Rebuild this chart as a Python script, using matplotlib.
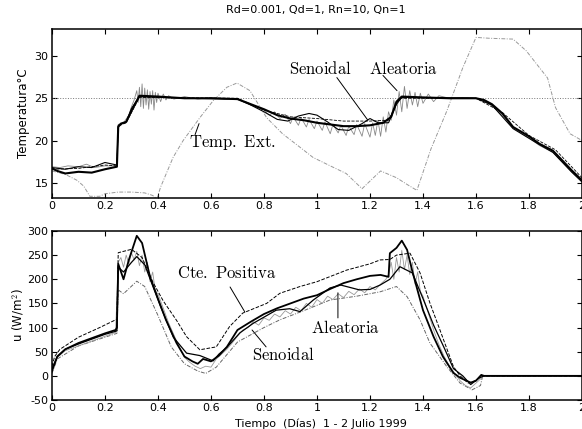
import matplotlib
matplotlib.use('Agg')
import matplotlib.pyplot as plt
from matplotlib.ticker import FormatStrFormatter

plt.rcParams['font.family'] = ['DejaVu Sans']
plt.rcParams['mathtext.fontset'] = 'cm'
plt.rcParams['axes.unicode_minus'] = False

title = 'Rd=0.001, Qd=1, Rn=10, Qn=1'
setpoint = 25

# --- temperature panel ---
temp_main = [(0, 16.7), (0.02, 16.4), (0.05, 16.1), (0.1, 16.3), (0.15, 16.2), (0.2, 16.6),
             (0.245, 16.9), (0.25, 21.6), (0.26, 22.0), (0.28, 22.2), (0.3, 23.5), (0.33, 25.3),
             (0.4, 25.2), (0.5, 25.0), (0.6, 25.0), (0.7, 24.9), (0.75, 24.3), (0.8, 23.7),
             (0.85, 23.0), (0.9, 22.6), (0.95, 22.4), (1.0, 22.1), (1.05, 21.9), (1.1, 21.7),
             (1.15, 21.7), (1.2, 21.8), (1.25, 22.1), (1.28, 22.8), (1.3, 24.6), (1.32, 25.2),
             (1.4, 25.1), (1.5, 25.0), (1.6, 25.0), (1.63, 24.8), (1.66, 24.3), (1.7, 23.2),
             (1.74, 21.6), (1.8, 20.5), (1.84, 19.6), (1.89, 18.8), (1.93, 17.5), (1.96, 16.5),
             (2.0, 15.3)]
temp_seno = [(0, 16.8), (0.05, 16.6), (0.1, 16.9), (0.15, 16.8), (0.2, 17.4), (0.245, 17.1),
             (0.25, 21.8), (0.28, 22.2), (0.3, 23.8), (0.33, 25.2), (0.5, 25.0), (0.7, 24.9),
             (0.75, 24.2), (0.8, 23.4), (0.85, 22.5), (0.89, 22.3), (0.93, 22.9), (0.97, 23.2),
             (1.0, 23.0), (1.04, 22.2), (1.08, 21.3), (1.12, 21.2), (1.17, 22.0), (1.2, 22.6),
             (1.23, 22.1), (1.27, 22.1), (1.3, 24.3), (1.32, 25.1), (1.6, 25.0), (1.66, 24.2),
             (1.74, 21.4), (1.84, 19.5), (1.89, 18.6), (1.96, 16.3), (2.0, 15.1)]
temp_dash = [(0, 16.6), (0.1, 16.7), (0.2, 17.1), (0.245, 17.0), (0.25, 21.7), (0.28, 22.1),
             (0.33, 25.1), (0.7, 25.0), (0.8, 23.6), (0.9, 22.8), (1.0, 22.6), (1.1, 22.3),
             (1.2, 22.3), (1.27, 22.4), (1.31, 25.0), (1.6, 25.0), (1.7, 23.3), (1.8, 20.6),
             (1.9, 18.9), (2.0, 15.6)]
temp_ale = [(0, 16.9), (0.03, 16.8), (0.06, 17.0), (0.1, 16.9), (0.13, 17.2), (0.16, 16.8),
            (0.2, 17.0), (0.245, 17.0), (0.25, 21.9), (0.27, 22.1), (0.29, 23.0), (0.3, 24.0),
            (0.31, 24.8), (0.32, 25.9), (0.325, 24.5), (0.33, 26.3), (0.335, 24.0), (0.34, 26.7),
            (0.345, 23.8), (0.35, 26.2), (0.355, 24.2), (0.36, 26.0), (0.365, 23.7), (0.37, 25.8),
            (0.375, 24.3), (0.38, 25.9), (0.385, 23.6), (0.39, 25.7), (0.395, 24.5), (0.4, 25.6),
            (0.41, 24.6), (0.42, 25.5), (0.43, 24.8), (0.44, 25.3), (0.46, 24.9), (0.5, 25.2),
            (0.55, 24.9), (0.6, 25.1), (0.65, 24.9), (0.7, 25.0), (0.75, 24.2), (0.8, 23.6),
            (0.82, 23.0), (0.84, 23.4), (0.86, 22.6), (0.88, 23.1), (0.9, 22.0), (0.91, 22.8),
            (0.93, 21.8), (0.94, 22.7), (0.96, 21.6), (0.97, 22.5), (0.99, 21.4), (1.0, 22.3),
            (1.02, 21.2), (1.03, 22.2), (1.05, 20.8), (1.06, 21.9), (1.08, 20.9), (1.09, 21.8),
            (1.11, 20.6), (1.12, 21.7), (1.14, 20.7), (1.15, 21.9), (1.17, 20.5), (1.18, 22.0),
            (1.2, 20.4), (1.21, 22.1), (1.22, 20.6), (1.23, 22.4), (1.24, 20.5), (1.25, 22.8),
            (1.26, 21.0), (1.27, 23.4), (1.28, 22.4), (1.29, 24.8), (1.3, 23.0), (1.31, 25.8),
            (1.32, 23.4), (1.33, 26.4), (1.34, 23.8), (1.35, 25.9), (1.36, 24.2), (1.37, 25.7),
            (1.38, 24.0), (1.39, 25.6), (1.4, 24.4), (1.42, 25.5), (1.44, 24.6), (1.46, 25.3),
            (1.5, 25.0), (1.55, 25.1), (1.6, 25.0), (1.63, 24.7), (1.66, 24.1), (1.7, 23.0),
            (1.74, 21.5), (1.8, 20.3), (1.84, 19.4), (1.89, 18.6), (1.93, 17.3), (1.96, 16.3),
            (2.0, 15.1)]
temp_ext = [(0, 16.4), (0.05, 16.0), (0.094, 15.3), (0.12, 14.6), (0.143, 13.4), (0.18, 13.4),
            (0.2, 13.7), (0.25, 13.9), (0.3, 13.9), (0.35, 13.8), (0.38, 13.5), (0.396, 13.1),
            (0.41, 14.5), (0.457, 18.0), (0.495, 20.0), (0.558, 22.7), (0.608, 24.7), (0.66, 26.3),
            (0.698, 26.8), (0.747, 25.9), (0.81, 22.7), (0.87, 20.8), (0.936, 19.2), (0.985, 18.0),
            (1.05, 17.0), (1.11, 16.1), (1.17, 14.3), (1.24, 16.4), (1.3, 15.6), (1.34, 14.8),
            (1.377, 14.1), (1.43, 19.0), (1.49, 23.5), (1.55, 28.6), (1.6, 32.2), (1.65, 32.1),
            (1.74, 32.0), (1.79, 30.6), (1.87, 27.4), (1.9, 23.9), (1.955, 20.8), (2.0, 20.0)]

# --- control panel ---
u_main = [(0, 10), (0.01, 25), (0.02, 40), (0.05, 55), (0.1, 68), (0.15, 78), (0.2, 88),
          (0.24, 95), (0.245, 100), (0.25, 232), (0.27, 200), (0.29, 240), (0.32, 290),
          (0.34, 275), (0.37, 205), (0.4, 160), (0.43, 116), (0.47, 68), (0.5, 40), (0.53, 30),
          (0.55, 25), (0.57, 35), (0.6, 30), (0.63, 42), (0.66, 60), (0.7, 95), (0.75, 112),
          (0.8, 128), (0.85, 140), (0.9, 150), (0.95, 160), (1.0, 167), (1.05, 180), (1.1, 192),
          (1.15, 200), (1.2, 207), (1.24, 209), (1.27, 205), (1.275, 254), (1.3, 265),
          (1.32, 280), (1.34, 261), (1.36, 216), (1.4, 136), (1.44, 81), (1.475, 40),
          (1.515, 6), (1.54, -4), (1.58, -14), (1.6, -10), (1.62, 2), (1.63, 0), (2.0, 0)]
u_seno = [(0, 15), (0.02, 40), (0.05, 55), (0.1, 66), (0.15, 76), (0.2, 86), (0.245, 93),
          (0.25, 225), (0.27, 215), (0.3, 235), (0.32, 247), (0.35, 230), (0.41, 143),
          (0.458, 80), (0.508, 47), (0.558, 42), (0.608, 31), (0.63, 45), (0.66, 59),
          (0.709, 89), (0.76, 109), (0.846, 136), (0.897, 139), (0.936, 133), (0.986, 157),
          (1.049, 182), (1.09, 188), (1.16, 178), (1.2, 179), (1.238, 188), (1.275, 200),
          (1.313, 226), (1.36, 213), (1.4, 160), (1.44, 105), (1.48, 58), (1.515, 15),
          (1.55, 0), (1.58, -18), (1.61, -5), (1.63, 0), (2.0, 0)]
u_cte = [(0, 20), (0.01, 40), (0.03, 55), (0.1, 80), (0.18, 100), (0.24, 116), (0.245, 117),
         (0.25, 255), (0.3, 262), (0.34, 245), (0.38, 195), (0.42, 155), (0.47, 115),
         (0.508, 81), (0.558, 54), (0.62, 60), (0.67, 102), (0.72, 130), (0.81, 150),
         (0.86, 171), (0.936, 185), (1.0, 195), (1.112, 219), (1.2, 232), (1.238, 240),
         (1.275, 241), (1.3, 250), (1.351, 254), (1.389, 213), (1.426, 151), (1.464, 95),
         (1.515, 19), (1.54, 0), (1.57, -15), (1.6, -10), (1.62, 0), (2.0, 0)]
u_low = [(0, 5), (0.02, 35), (0.1, 62), (0.2, 80), (0.245, 88), (0.25, 178), (0.27, 170),
         (0.32, 196), (0.35, 185), (0.4, 125), (0.45, 60), (0.5, 25), (0.55, 10), (0.58, 5),
         (0.62, 18), (0.7, 70), (0.8, 100), (0.86, 116), (0.95, 135), (1.049, 157),
         (1.15, 165), (1.238, 174), (1.3, 185), (1.34, 164), (1.389, 116), (1.426, 68),
         (1.49, 19), (1.54, -15), (1.585, -29), (1.617, -20), (1.625, 0), (2.0, 0)]
u_ale = [(0, 12), (0.02, 38), (0.05, 52), (0.1, 62), (0.15, 72), (0.2, 82), (0.24, 90),
         (0.25, 235), (0.26, 245), (0.27, 225), (0.28, 250), (0.29, 232), (0.3, 255),
         (0.31, 240), (0.32, 258), (0.33, 228), (0.34, 250), (0.35, 215), (0.36, 235),
         (0.37, 195), (0.38, 215), (0.39, 175), (0.4, 170), (0.42, 140), (0.44, 110),
         (0.46, 85), (0.48, 60), (0.5, 38), (0.52, 28), (0.54, 20), (0.56, 15), (0.58, 20),
         (0.6, 18), (0.62, 35), (0.64, 45), (0.66, 55), (0.68, 68), (0.7, 82), (0.72, 95),
         (0.74, 100), (0.76, 112), (0.78, 105), (0.8, 120), (0.82, 115), (0.84, 128),
         (0.86, 122), (0.88, 135), (0.9, 128), (0.92, 142), (0.94, 135), (0.96, 150),
         (0.98, 142), (1.0, 158), (1.02, 150), (1.04, 165), (1.06, 158), (1.08, 170),
         (1.1, 162), (1.12, 175), (1.14, 168), (1.16, 180), (1.18, 172), (1.2, 185),
         (1.22, 178), (1.24, 190), (1.26, 200), (1.27, 210), (1.28, 235), (1.29, 200),
         (1.3, 245), (1.31, 215), (1.32, 260), (1.33, 220), (1.34, 250), (1.35, 210),
         (1.36, 235), (1.37, 190), (1.38, 215), (1.39, 175), (1.4, 165), (1.42, 130),
         (1.44, 95), (1.46, 65), (1.48, 40), (1.5, 20), (1.52, 5), (1.54, -10), (1.56, -20),
         (1.58, -25), (1.6, -15), (1.62, -5), (1.63, 0), (2.0, 0)]

xticks = [0, 0.2, 0.4, 0.6, 0.8, 1.0, 1.2, 1.4, 1.6, 1.8, 2.0]
temp_yticks = [15, 20, 25, 30]
u_yticks = [-50, 0, 50, 100, 150, 200, 250, 300]


def xy(pairs):
    return [p[0] for p in pairs], [p[1] for p in pairs]


def style(ax):
    ax.tick_params(direction='in', length=3.5, width=0.8, top=True, right=True,
                   labelsize=8, pad=2.5)
    for s in ax.spines.values():
        s.set_linewidth(1.1)
    ax.set_xlim(0, 2)
    ax.set_xticks(xticks)
    ax.xaxis.set_major_formatter(FormatStrFormatter('%g'))


def label(ax, txt, pos, p0, p1, size=12):
    ax.text(pos[0], pos[1], r'$\mathrm{' + txt.replace(' ', r'\ ') + '}$',
            ha='center', va='center', fontsize=size)
    ax.annotate('', xy=p1, xytext=p0,
                arrowprops=dict(arrowstyle='-', lw=0.7, color='black',
                                shrinkA=0, shrinkB=0))


fig = plt.figure(figsize=(5.82, 4.29), dpi=100)
ax1 = fig.add_axes([0.0893, 0.5385, 0.9107, 0.394])
ax2 = fig.add_axes([0.0893, 0.0676, 0.9107, 0.394])

# top panel
ax1.axhline(setpoint, color='#777777', lw=0.7, ls=':')
ax1.plot(*xy(temp_ext), color='#999999', lw=0.7, dashes=(4, 1.5, 1, 1.5))
ax1.plot(*xy(temp_ale), color='#888888', lw=0.6)
ax1.plot(*xy(temp_dash), color='black', lw=0.6, ls='--')
ax1.plot(*xy(temp_seno), color='black', lw=0.8)
ax1.plot(*xy(temp_main), color='black', lw=1.5)
style(ax1)
ax1.set_ylim(13.2, 33.2)
ax1.set_yticks(temp_yticks)
ax1.set_ylabel('Temperatura°C', fontsize=8.5, labelpad=3)

label(ax1, 'Temp. Ext.', (0.68, 19.8), (0.555, 22.0), (0.54, 20.7))
label(ax1, 'Senoidal', (1.011, 28.5), (1.075, 27.45), (1.192, 22.4))
label(ax1, 'Aleatoria', (1.328, 28.5), (1.249, 27.7), (1.302, 25.9))

# bottom panel
ax2.plot(*xy(u_low), color='#666666', lw=0.7, dashes=(4, 1.5, 1, 1.5))
ax2.plot(*xy(u_ale), color='#999999', lw=0.6)
ax2.plot(*xy(u_cte), color='black', lw=0.7, ls='--')
ax2.plot(*xy(u_seno), color='black', lw=0.9)
ax2.plot(*xy(u_main), color='black', lw=1.3)
style(ax2)
ax2.set_ylim(-50, 300)
ax2.set_yticks(u_yticks)
ax2.set_ylabel('u (W/m$^2$)', fontsize=8.5, labelpad=1)

label(ax2, 'Cte. Positiva', (0.657, 213), (0.672, 184), (0.728, 132))
label(ax2, 'Senoidal', (0.875, 43), (0.755, 95), (0.808, 60))
label(ax2, 'Aleatoria', (1.109, 99), (1.079, 172), (1.079, 120))

fig.text(0.543, 0.977, title, ha='center', va='center', fontsize=8)
fig.text(0.552, 0.012, 'Tiempo  (Días)  1 - 2 Julio 1999', ha='center', va='center',
         fontsize=8)

fig.savefig('out.png', dpi=100)
